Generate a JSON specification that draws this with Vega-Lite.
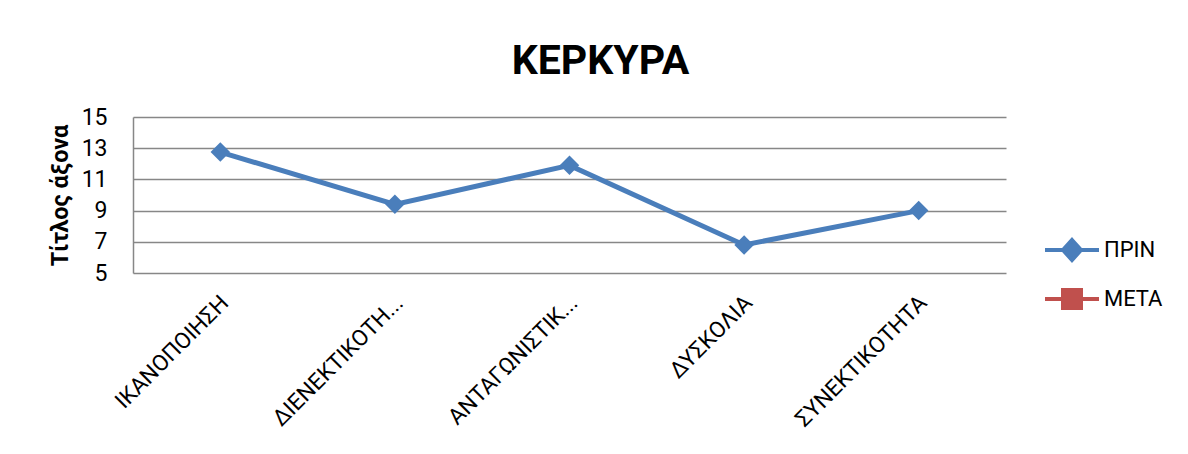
{
  "$schema": "https://vega.github.io/schema/vega-lite/v6.json",
  "autosize": "none",
  "width": 873,
  "height": 156,
  "padding": {"left": 133, "top": 117, "right": 182, "bottom": 181},
  "background": "white",
  "title": {
    "text": "ΚΕΡΚΥΡΑ",
    "font": "Roboto",
    "fontSize": 41,
    "fontWeight": "bold",
    "color": "black",
    "baseline": "alphabetic",
    "offset": -9,
    "dx": 31,
    "anchor": "middle"
  },
  "config": {
    "view": {"stroke": null},
    "font": "Roboto"
  },
  "data": {
    "values": [
      {"cat": "ΙΚΑΝΟΠΟΙΗΣΗ", "series": "ΠΡΙΝ", "value": 12.75},
      {"cat": "ΔΙΕΝΕΚΤΙΚΟΤΗ...", "series": "ΠΡΙΝ", "value": 9.4},
      {"cat": "ΑΝΤΑΓΩΝΙΣΤΙΚ...", "series": "ΠΡΙΝ", "value": 11.9},
      {"cat": "ΔΥΣΚΟΛΙΑ", "series": "ΠΡΙΝ", "value": 6.8},
      {"cat": "ΣΥΝΕΚΤΙΚΟΤΗΤΑ", "series": "ΠΡΙΝ", "value": 9.0}
    ]
  },
  "encoding": {
    "x": {
      "field": "cat",
      "type": "nominal",
      "sort": null,
      "scale": {"type": "point", "padding": 0.5},
      "axis": {
        "title": null,
        "labelAngle": -45,
        "labelAlign": "right",
        "labelBaseline": "middle",
        "labelFont": "Roboto",
        "labelFontSize": 22.5,
        "labelColor": "black",
        "labelPadding": 26,
        "labelOffset": 4,
        "labelLimit": 400,
        "ticks": false,
        "domain": false,
        "grid": false
      }
    },
    "y": {
      "field": "value",
      "type": "quantitative",
      "scale": {"domain": [5, 15], "nice": false, "zero": false},
      "axis": {
        "title": "Τίτλος άξονα",
        "titleFont": "Roboto",
        "titleFontSize": 23.5,
        "titleFontWeight": "bold",
        "titleColor": "black",
        "titlePadding": 9,
        "values": [5, 7, 9, 11, 13, 15],
        "labelFont": "Roboto",
        "labelFontSize": 23,
        "labelColor": "black",
        "labelPadding": 26,
        "ticks": false,
        "domain": true,
        "domainColor": "#878787",
        "domainWidth": 1.5,
        "grid": true,
        "gridColor": "#878787",
        "gridWidth": 1.5,
        "gridOpacity": 1
      }
    },
    "color": {
      "field": "series",
      "type": "nominal",
      "scale": {"domain": ["ΠΡΙΝ", "ΜΕΤΑ"], "range": ["#4A7EBB", "#C0504D"]},
      "legend": {
        "title": null,
        "orient": "none",
        "legendX": 917,
        "legendY": 111,
        "padding": 0,
        "symbolSize": 1600,
        "rowPadding": 9,
        "labelOffset": 10,
        "labelFont": "Roboto",
        "labelFontSize": 22,
        "labelColor": "black",
        "encode": {
          "symbols": {
            "update": {
              "shape": {"signal": "datum.value === 'ΠΡΙΝ' ? 'M-1.35,0H1.35M0,-0.5L0.45,0L0,0.5L-0.45,0Z' : 'M-1.35,0H1.35M-0.45,-0.45H0.45V0.45H-0.45Z'"},
              "fill": {"signal": "datum.value === 'ΠΡΙΝ' ? '#4A7EBB' : '#C0504D'"},
              "stroke": {"signal": "datum.value === 'ΠΡΙΝ' ? '#4A7EBB' : '#C0504D'"},
              "strokeWidth": {"value": 4},
              "opacity": {"value": 1},
              "fillOpacity": {"value": 1}
            }
          }
        }
      }
    }
  },
  "layer": [
    {
      "mark": {"type": "line", "strokeWidth": 5}
    },
    {
      "mark": {"type": "point", "shape": "diamond", "filled": true, "size": 380, "opacity": 1}
    }
  ]
}
